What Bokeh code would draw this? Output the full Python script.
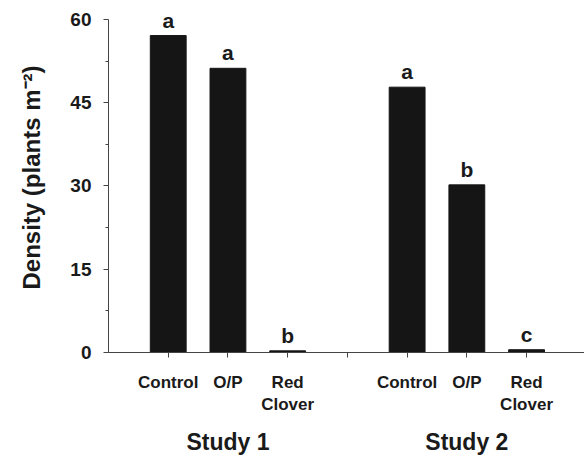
from bokeh.plotting import figure
from bokeh.models import (ColumnDataSource, FixedTicker, LinearAxis, LabelSet, Range1d)
from bokeh.core.properties import value
from bokeh.embed import file_html
from bokeh.resources import INLINE

# ---- data ----
studies = ["Study 1", "Study 2"]
treatments = ["Control", "O/P", "Red\nClover"]
study1_density = [57.1, 51.2, 0.3]
study2_density = [47.8, 30.2, 0.5]
study1_letters = ["a", "a", "b"]
study2_letters = ["a", "b", "c"]
y_ticks = [0, 15, 30, 45, 60]

FONT = "Liberation Sans"
INK = "#1a1a1a"

# positions derived from category/study order (gap slot between studies)
xs, vals, lets, labels = [], [], [], {}
for s, (dens, let) in enumerate([(study1_density, study1_letters), (study2_density, study2_letters)]):
    for t, name in enumerate(treatments):
        x = s * (len(treatments) + 1) + t + 1
        xs.append(x)
        vals.append(dens[t])
        lets.append(let[t])
        labels[x] = name
gap_ticks = [len(treatments) + 1]
study_centers = [s * (len(treatments) + 1) + (len(treatments) + 1) / 2 for s in range(len(studies))]

src = ColumnDataSource(dict(x=xs, top=vals, letter=lets))

y_top = max(y_ticks)
p = figure(width=584, height=457, output_backend="svg", toolbar_location=None,
           x_range=Range1d(0, 7.97), y_range=Range1d(0, y_top * 351 / 334),
           x_axis_type=None, min_border_left=108, min_border_right=0,
           min_border_top=2, min_border_bottom=104)
p.outline_line_color = None
p.grid.visible = False
p.background_fill_color = "white"
p.border_fill_color = "white"

p.vbar(x="x", top="top", width=0.6, bottom=0, source=src,
       fill_color="#151515", line_color="#151515")

p.add_layout(LabelSet(x="x", y="top", text="letter", source=src, y_offset=4,
                      text_align="center", text_baseline="bottom",
                      text_font=value(FONT), text_font_style="bold",
                      text_font_size="21px", text_color=INK))

# y axis
ya = p.yaxis[0]
ya.bounds = (0, y_top)
ya.ticker = FixedTicker(ticks=y_ticks, minor_ticks=[7.5, 22.5, 37.5, 52.5])
ya.axis_label = "Density (plants m\u207B\u00B2)"
ya.axis_label_text_font = FONT
ya.axis_label_text_font_style = "bold"
ya.axis_label_text_font_size = "24px"
ya.axis_label_text_color = INK
ya.axis_label_standoff = 22
ya.major_label_text_font = FONT
ya.major_label_text_font_style = "bold"
ya.major_label_text_font_size = "19px"
ya.major_label_text_color = INK
ya.major_label_standoff = 12
ya.axis_line_color = "#444444"
ya.major_tick_line_color = "#444444"
ya.minor_tick_line_color = "#444444"
ya.major_tick_in = 0
ya.major_tick_out = 5
ya.minor_tick_in = 0
ya.minor_tick_out = 3

# x axis with treatments
xa = LinearAxis(ticker=FixedTicker(ticks=sorted(xs + gap_ticks)),
                major_label_overrides={**{k: v for k, v in labels.items()}, **{g: "" for g in gap_ticks}})
xa.major_label_text_font = FONT
xa.major_label_text_font_style = "bold"
xa.major_label_text_font_size = "17px"
xa.major_label_text_color = INK
xa.major_label_standoff = 15
xa.axis_line_color = "#444444"
xa.major_tick_line_color = "#444444"
xa.major_tick_in = 0
xa.major_tick_out = 5
xa.minor_tick_line_color = None
p.add_layout(xa, "below")

# study axis
sa = LinearAxis(ticker=FixedTicker(ticks=study_centers),
                major_label_overrides={c: n for c, n in zip(study_centers, studies)})
sa.axis_line_color = None
sa.major_tick_line_color = None
sa.minor_tick_line_color = None
sa.major_label_text_font = FONT
sa.major_label_text_font_style = "bold"
sa.major_label_text_font_size = "23px"
sa.major_label_text_color = INK
sa.major_label_standoff = 5
p.add_layout(sa, "below")

open("out.html", "w").write(file_html(p, INLINE))
